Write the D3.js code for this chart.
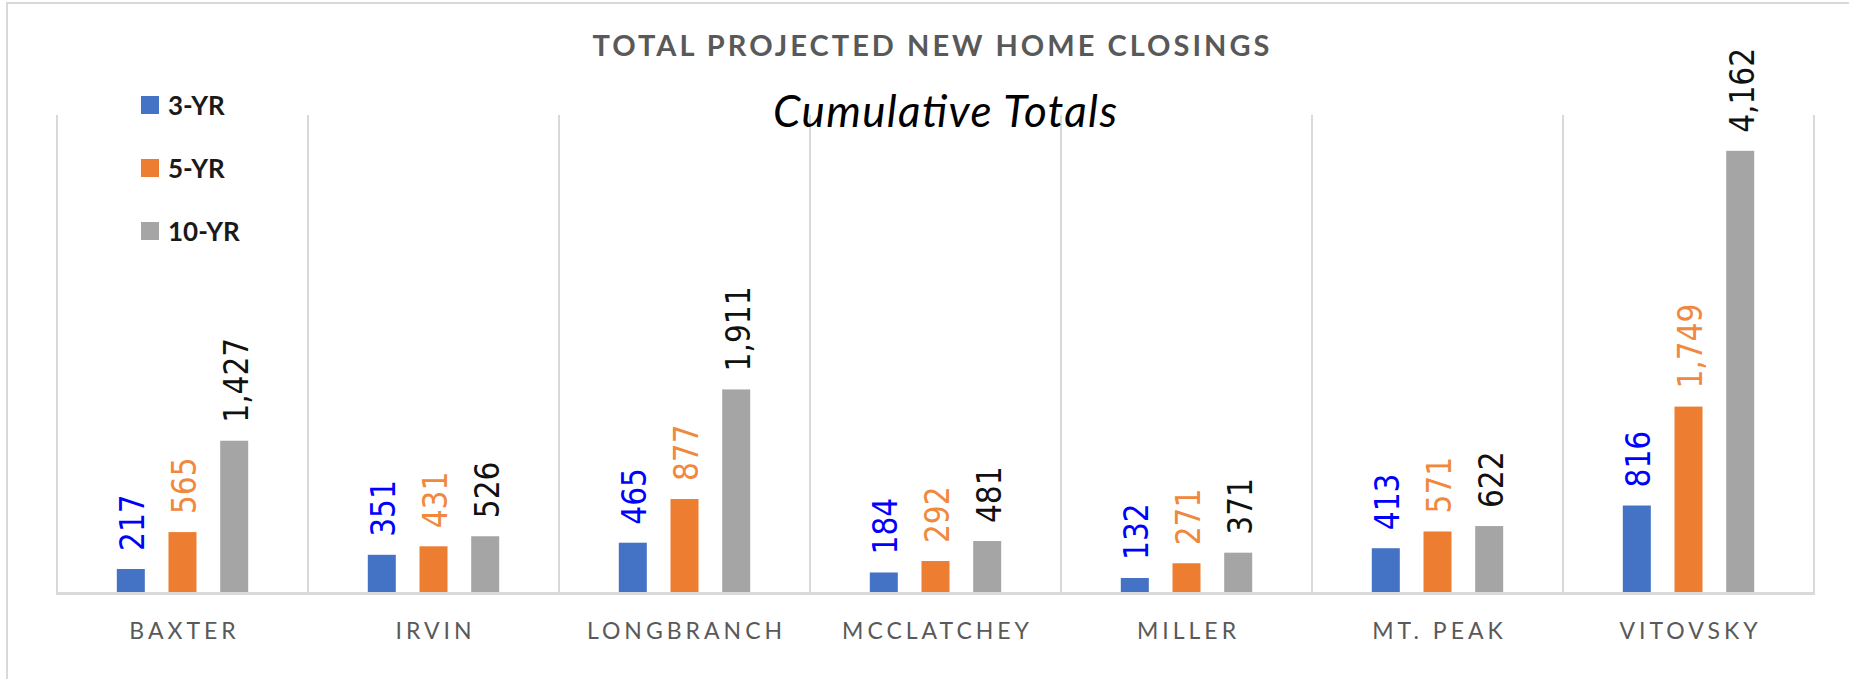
<!DOCTYPE html>
<html>
<head>
<meta charset="utf-8">
<script src="https://cdn.jsdelivr.net/npm/d3@7"></script>
<style>
  html, body { margin: 0; padding: 0; background: #fff; }
  svg { display: block; }
</style>
</head>
<body>
<svg id="chart" width="1849" height="679"></svg>
<script>
// Projected closings per community, cumulative over each horizon
const categories = ["BAXTER", "IRVIN", "LONGBRANCH", "MCCLATCHEY", "MILLER", "MT. PEAK", "VITOVSKY"];
const seriesNames = ["3-YR", "5-YR", "10-YR"];
const threeYear = [217, 351, 465, 184, 132, 413, 816];
const fiveYear  = [565, 431, 877, 292, 271, 571, 1749];
const tenYear   = [1427, 526, 1911, 481, 371, 622, 4162];
const yMax = 4500;

const seriesValues = [threeYear, fiveYear, tenYear];
const barColors = ["#4472C4", "#ED7D31", "#A5A5A5"];
const labelColors = ["#0000FF", "#F0883E", "#111111"];

const svg = d3.select("#chart");
const W = 1849, H = 679;

// outer chart-area frame
svg.append("rect")
  .attr("x", 7).attr("y", 3)
  .attr("width", W + 20).attr("height", H + 20)
  .attr("fill", "#fff")
  .attr("stroke", "#D9D9D9").attr("stroke-width", 2);

const plot = { left: 57, right: 1814, top: 115, bottom: 592 };

const x0 = d3.scaleBand().domain(categories).range([plot.left, plot.right]).padding(0);
const y = d3.scaleLinear().domain([0, yMax]).range([plot.bottom, plot.top]);

// category separators
const edges = categories.map(c => x0(c)).concat([plot.right]);
svg.append("g").selectAll("line").data(edges).join("line")
  .attr("x1", d => d).attr("x2", d => d)
  .attr("y1", plot.top).attr("y2", plot.bottom + 2)
  .attr("stroke", "#D9D9D9").attr("stroke-width", 2);

// baseline
svg.append("line")
  .attr("x1", plot.left - 1).attr("x2", plot.right + 1)
  .attr("y1", plot.bottom + 1.5).attr("y2", plot.bottom + 1.5)
  .attr("stroke", "#D9D9D9").attr("stroke-width", 3);

// inner band: 3 bars of ~28px on a ~52px pitch, centred in each category
const step = 51.7, barW = 28;
const x1 = d3.scaleBand().domain(seriesNames)
  .range([-1.5 * step, 1.5 * step])
  .paddingInner((step - barW) / step)
  .paddingOuter((step - barW) / step / 2);

const rows = [];
categories.forEach((c, i) => {
  seriesNames.forEach((s, j) => {
    rows.push({ cat: c, series: s, j, value: seriesValues[j][i] });
  });
});

const groups = svg.append("g");
groups.selectAll("rect").data(rows).join("rect")
  .attr("x", d => x0(d.cat) + x0.bandwidth() / 2 + x1(d.series))
  .attr("y", d => y(d.value))
  .attr("width", x1.bandwidth())
  .attr("height", d => y(0) - y(d.value))
  .attr("fill", d => barColors[d.j]);

// rotated value labels above each bar
const fmt = d3.format(",");
groups.selectAll("text").data(rows).join("text")
  .attr("transform", d => {
    const cx = x0(d.cat) + x0.bandwidth() / 2 + x1(d.series) + x1.bandwidth() / 2 + 1.5;
    return `translate(${cx},${y(d.value) - 18}) rotate(-90)`;
  })
  .attr("dy", "0.36em")
  .attr("text-anchor", "start")
  .style("font-family", "'DejaVu Sans Condensed', 'DejaVu Sans', sans-serif")
  .style("font-stretch", "condensed")
  .style("font-size", "33px")
  .attr("fill", d => labelColors[d.j])
  .text(d => fmt(d.value));

// category axis labels
svg.append("g").selectAll("text").data(categories).join("text")
  .attr("x", d => x0(d) + x0.bandwidth() / 2 + 2)
  .attr("y", 639)
  .attr("text-anchor", "middle")
  .style("font-family", "Lato, 'Open Sans', sans-serif")
  .style("font-size", "23px")
  .style("letter-spacing", "4px")
  .attr("fill", "#595959")
  .text(d => d);

// title and subtitle
svg.append("text")
  .attr("x", 931).attr("y", 56)
  .attr("text-anchor", "middle")
  .attr("textLength", 677).attr("lengthAdjust", "spacing")
  .style("font-family", "Lato, 'Open Sans', sans-serif")
  .style("font-weight", "700")
  .style("font-size", "29px")
  .attr("fill", "#595959")
  .text("TOTAL PROJECTED NEW HOME CLOSINGS");

svg.append("text")
  .attr("x", 945).attr("y", 127)
  .attr("text-anchor", "middle")
  .attr("textLength", 344).attr("lengthAdjust", "spacing")
  .style("font-family", "Lato, 'Open Sans', sans-serif")
  .style("font-style", "italic")
  .style("font-size", "44px")
  .attr("fill", "#000")
  .text("Cumulative Totals");

// legend
const legend = svg.append("g").selectAll("g").data(seriesNames).join("g")
  .attr("transform", (d, i) => `translate(141,${96 + i * 63})`);
legend.append("rect")
  .attr("width", 18).attr("height", 18)
  .attr("fill", (d, i) => barColors[i]);
legend.append("text")
  .attr("x", 27).attr("y", 19)
  .style("font-family", "Lato, 'Open Sans', sans-serif")
  .style("font-weight", "700")
  .style("font-size", "26px")
  .attr("fill", "#1A1A1A")
  .text(d => d);
</script>
</body>
</html>
